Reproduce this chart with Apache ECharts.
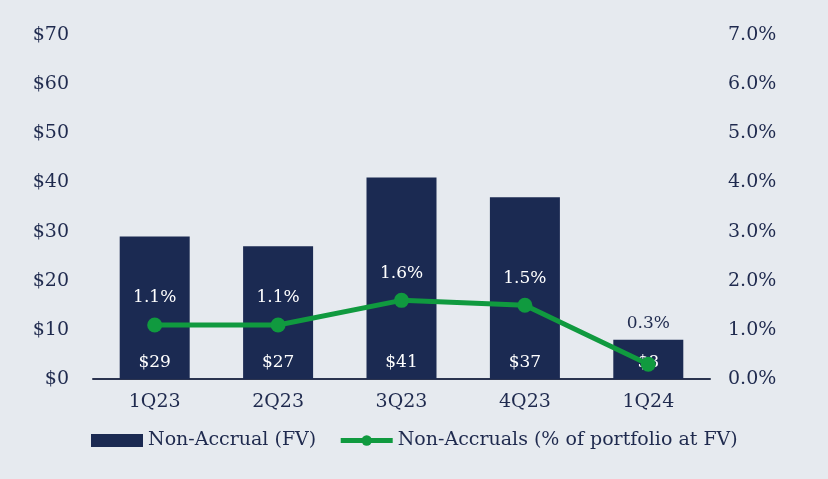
<!DOCTYPE html>
<html><head><meta charset="utf-8">
<script src="https://cdn.jsdelivr.net/npm/echarts@6/dist/echarts.min.js"></script>
<style>html,body{margin:0;padding:0;background:#e6eaef;}#c{width:828px;height:479px;}</style>
</head><body><div id="c"></div>
<script>
const categories = ['1Q23','2Q23','3Q23','4Q23','1Q24'];
const nonAccrualFV = [29, 27, 41, 37, 8];
const nonAccrualPct = [1.1, 1.1, 1.6, 1.5, 0.3];
const barName = 'Non-Accrual (FV)';
const lineName = 'Non-Accruals (% of portfolio at FV)';

const FONT = "Georgia, 'DejaVu Serif', serif";
const TXT = '#1f2a4e';
const NAVY = '#1b2a52';
const GREEN = '#109a3f';

const chart = echarts.init(document.getElementById('c'));
chart.setOption({
  backgroundColor: '#e6eaef',
  animation: false,
  textStyle: { fontFamily: FONT, color: TXT },
  grid: { left: 93, right: 118, top: 35, bottom: 100 },
  legend: {
    bottom: 24, left: 86, itemGap: 22,
    textStyle: { fontFamily: FONT, fontSize: 19, color: TXT },
    itemWidth: 52, itemHeight: 13,
    data: [
      { name: barName, icon: 'rect' },
      { name: lineName, itemStyle: { color: GREEN }, lineStyle: { color: GREEN, width: 5 } }
    ]
  },
  xAxis: {
    type: 'category', data: categories,
    axisLine: { lineStyle: { color: '#2b3450', width: 2 } },
    axisTick: { show: false },
    axisLabel: { fontFamily: FONT, fontSize: 19, color: TXT, margin: 14 }
  },
  yAxis: [
    { type: 'value', min: 0, max: 70, interval: 10, splitLine: { show: false },
      axisLabel: { fontFamily: FONT, fontSize: 19, color: TXT, margin: 24, formatter: v => '$' + v } },
    { type: 'value', min: 0, max: 7, interval: 1, splitLine: { show: false },
      axisLabel: { fontFamily: FONT, fontSize: 19, color: TXT, margin: 18, formatter: v => v.toFixed(1) + '%' } }
  ],
  series: [
    { name: barName, type: 'bar', data: nonAccrualFV, barWidth: 70,
      itemStyle: { color: NAVY },
      label: { show: true, position: 'insideBottom', distance: 8, fontFamily: FONT, fontSize: 17, color: '#ffffff',
        formatter: p => '$' + p.value } },
    { name: lineName, type: 'line', yAxisIndex: 1, data: nonAccrualPct.map((v, i) => {
        const last = i === nonAccrualPct.length - 1;
        return { value: v, label: { color: last ? TXT : '#ffffff', distance: last ? 25 : 11 } };
      }),
      symbol: 'circle', symbolSize: 15,
      lineStyle: { color: GREEN, width: 5 }, itemStyle: { color: GREEN },
      label: { show: true, position: 'top', fontFamily: FONT, fontSize: 17,
        formatter: p => p.value.toFixed(1) + '%' } }
  ]
});
</script></body></html>
